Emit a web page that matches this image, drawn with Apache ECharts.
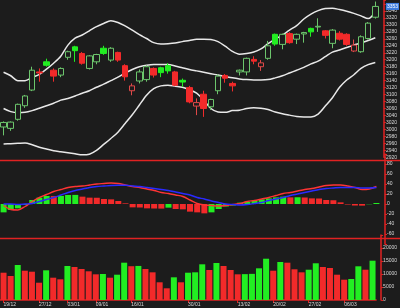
<!DOCTYPE html>
<html><head><meta charset="utf-8">
<script src="https://cdn.jsdelivr.net/npm/echarts@6/dist/echarts.min.js"></script>
<style>html,body{margin:0;padding:0;background:#1c1c1c;}#c{width:400px;height:308px;}</style>
</head><body><div id="c"></div>
<script>
const dates = ['19/12','20/12','21/12','24/12','26/12','27/12','28/12','31/12','02/01','03/01','04/01','07/01','08/01','09/01','10/01','11/01','14/01','15/01','16/01','17/01','18/01','21/01','22/01','23/01','24/01','29/01','30/01','31/01','01/02','04/02','05/02','06/02','07/02','13/02','14/02','15/02','18/02','19/02','20/02','21/02','22/02','25/02','26/02','27/02','28/02','01/03','04/03','05/03','06/03','07/03','08/03','11/03','12/03'];
const labelDates = ['19/12','27/12','03/01','09/01','16/01','30/01','13/02','20/02','27/02','06/03'];

const opens  = [3007,3003,3029,3068,3113,3165,3194,3170,3156,3207,3237,3218,3175,3194,3233,3199,3221,3183,3111,3139,3143,3175,3177,3183,3165,3141,3120,3067,3101,3065,3111,3155,3132,3165,3165,3201,3180,3204,3273,3244,3275,3259,3274,3290,3294,3283,3247,3276,3273,3225,3223,3261,3322];
const closes = [3020,3021,3072,3096,3170,3162,3184,3153,3175,3223,3226,3190,3211,3215,3218,3233,3199,3151,3125,3165,3180,3156,3163,3168,3127,3136,3079,3077,3060,3086,3153,3147,3125,3170,3204,3196,3191,3240,3245,3273,3249,3273,3278,3280,3296,3270,3285,3259,3244,3242,3266,3305,3353];
const lows   = [2983,2996,3025,3062,3110,3137,3180,3137,3150,3200,3194,3186,3172,3187,3214,3194,3194,3140,3098,3132,3137,3149,3150,3160,3124,3122,3075,3041,3036,3056,3101,3134,3109,3155,3155,3187,3168,3200,3240,3230,3246,3245,3249,3266,3280,3261,3233,3255,3240,3222,3220,3258,3318];
const highs  = [3023,3023,3074,3099,3180,3175,3203,3175,3178,3226,3240,3222,3213,3217,3240,3236,3223,3187,3132,3172,3184,3178,3180,3190,3168,3146,3125,3089,3111,3088,3158,3159,3137,3172,3206,3210,3199,3254,3275,3275,3279,3275,3280,3292,3319,3285,3288,3282,3276,3258,3270,3308,3367];
const priorClose = 2990;

const bollUpper = [3164,3154,3140,3140,3149,3158,3173,3190,3210,3242,3262,3271,3283,3295,3304,3312,3307,3297,3285,3272,3261,3249,3245,3246,3248,3252,3255,3259,3259,3258,3252,3239,3224,3216,3218,3222,3231,3246,3259,3271,3285,3298,3317,3331,3341,3347,3348,3344,3339,3333,3326,3318,3337];
const bollMid   = [3060,3051,3048,3049,3054,3061,3068,3075,3084,3089,3096,3104,3111,3121,3130,3140,3150,3162,3172,3180,3184,3186,3186,3186,3182,3177,3172,3168,3164,3160,3156,3152,3148,3145,3143,3142,3142,3143,3148,3154,3162,3170,3178,3188,3196,3209,3222,3228,3235,3242,3248,3255,3263];
const bollLower = [2958,2959,2960,2961,2956,2949,2944,2939,2936,2933,2930,2927,2929,2940,2957,2974,2992,3017,3042,3070,3098,3117,3125,3127,3124,3121,3114,3104,3084,3060,3050,3049,3054,3055,3060,3062,3061,3057,3050,3045,3041,3037,3036,3036,3044,3067,3091,3121,3142,3157,3175,3186,3192];

const volumes = [10500,9230,13460,11270,10880,6650,11420,8580,7960,13080,12690,11920,11040,9880,10000,8580,9730,14350,13000,13100,11920,10650,6810,4500,8730,6810,10500,10650,13730,11540,14230,13080,11540,9880,9950,10050,12190,15880,11270,14620,14350,11810,10650,11650,14120,12690,12310,9730,7810,8080,12960,11650,15120];
const priorVolume = 11500;

const dif = [-3,-11,-12,-5,5,13,19,25,29,33,35,36,38,40,41,42,41,38,35,33,30,27,23,21,18,15,8,1,-2,-3,-4,-3,-1,1,5,7,10,13,17,21,23,26,29,31,34,37,38,38,36,33,29,30,35];
const dea = [0,0,-1,0,1,5,9,13,18,23,27,30,33,35,36,37,37.5,37.5,36,35,33,31,29,27,24,21,18,13,10,6,3,0,-1,-2,-1,1,3,7,10,13,17,20,23,26,29,31,32,33,33,33,32,32,33];
const macdHist = [-16.7,-12,-8.7,-2,8,12.7,16,15.8,16.2,18,18.2,14.7,12.7,12.5,10,9.3,6,1.3,-6.7,-7,-8.7,-9,-9.2,-7.3,-10,-10.7,-15.3,-16.7,-18.7,-16.7,-10,-5,-3,2.7,4.7,6.7,9.3,11.3,13.3,14.7,13.3,13.5,13,11.3,11,8,7.5,3.3,-1,-3,-3.3,-0.5,2];
const priorHist = -19;

const BG = '#1c1c1c', UP = '#22ee22', DOWN = '#f22a2a', UP_HOLLOW = '#6cc56c', DOWN_HOLLOW = '#e04848';
const AXIS = '#e02222', TXT = '#d8d8d8', FONT = 'Liberation Sans';

const candleData = opens.map((o, i) => {
  const c = closes[i], prev = i ? closes[i - 1] : priorClose;
  const rising = c >= prev, hollow = c > o;
  const col = rising ? (hollow ? UP_HOLLOW : UP) : (hollow ? DOWN_HOLLOW : DOWN);
  const fill = hollow ? BG : col;
  return { value: [o, c, lows[i], highs[i]], itemStyle: { color: fill, color0: fill, borderColor: col, borderColor0: col, borderWidth: 1 } };
});
const volData = volumes.map((v, i) => ({ value: v, itemStyle: { color: v > (i ? volumes[i - 1] : priorVolume) ? UP : DOWN } }));
const histData = macdHist.map((v, i) => ({ value: v, itemStyle: { color: v > (i ? macdHist[i - 1] : priorHist) ? UP : DOWN } }));

const isLabel = (idx, v) => labelDates.includes(v);
function xAxis(g) {
  return {
    type: 'category', gridIndex: g, data: dates, boundaryGap: true, show: g === 2,
    axisLine: { show: true, lineStyle: { color: AXIS, width: 1.5 } },
    axisTick: { show: true, interval: isLabel, alignWithLabel: true, length: 3, lineStyle: { color: AXIS } },
    axisLabel: { interval: isLabel, align: 'left', fontSize: 5, fontFamily: FONT, color: TXT, margin: 2 },
    splitLine: { show: false }
  };
}
function yAxis(g, min, max, interval, lo, hi) {
  return {
    type: 'value', gridIndex: g, position: 'right', offset: 5, min, max, interval, scale: false,
    axisLine: { show: true, lineStyle: { color: AXIS, width: 1.5 } },
    axisTick: { show: true, length: 2, lineStyle: { color: AXIS } },
    axisLabel: { fontSize: 5, fontFamily: FONT, color: TXT, margin: 2, formatter: v => (v >= lo && v <= hi) ? String(v) : '' },
    splitLine: { show: false }
  };
}
const lastClose = closes[closes.length - 1];
const line = (name, data, color, x, y, w) => ({ name, type: 'line', data, xAxisIndex: x, yAxisIndex: y, symbol: 'none', smooth: 0.3, lineStyle: { color, width: w }, itemStyle: { color }, z: 3 });

const chart = echarts.init(document.getElementById('c'), null, { renderer: 'canvas' });
chart.setOption({
  animation: false,
  backgroundColor: BG,
  grid: [
    { left: 0, width: 380, top: 0.5, height: 156.8 },
    { left: 0, width: 380, top: 154, height: 90 },
    { left: 0, width: 380, top: 235, height: 65 }
  ],
  xAxis: [xAxis(0), xAxis(1), xAxis(2)],
  yAxis: [
    yAxis(0, 2920, 3370, 20, 2920, 3340),
    yAxis(1, -80, 100, 20, -60, 80),
    yAxis(2, 0, 25000, 5000, 0, 20000)
  ],
  graphic: [
    { type: 'line', shape: { x1: 0, y1: 160.5, x2: 400, y2: 160.5 }, style: { stroke: AXIS, lineWidth: 1.5 }, silent: true },
    { type: 'line', shape: { x1: 0, y1: 238.5, x2: 400, y2: 238.5 }, style: { stroke: AXIS, lineWidth: 1.5 }, silent: true }
  ],
  series: [
    line('upper', bollUpper, '#e8e8e8', 0, 0, 1.5),
    line('mid', bollMid, '#e8e8e8', 0, 0, 1.5),
    line('lower', bollLower, '#e8e8e8', 0, 0, 1.5),
    {
      name: 'price', type: 'candlestick', xAxisIndex: 0, yAxisIndex: 0, data: candleData, barWidth: 6, z: 4, clip: false,
      markLine: {
        symbol: 'none', silent: true, animation: false, z: 10,
        lineStyle: { color: 'rgba(0,0,0,0)', width: 0, type: 'solid' },
        label: { show: true, position: 'end', distance: 7, formatter: String(lastClose), backgroundColor: '#3d7de0', color: '#ffffff', opacity: 1, fontSize: 5, fontFamily: FONT, padding: [1, 1] },
        emphasis: { disabled: true },
        data: [{ yAxis: lastClose }]
      }
    },
    { name: 'hist', type: 'bar', xAxisIndex: 1, yAxisIndex: 1, data: histData, barWidth: 6, z: 2 },
    line('dif', dif, '#ff3434', 1, 1, 1.4),
    line('dea', dea, '#2a2aff', 1, 1, 1.4),
    { name: 'vol', type: 'bar', xAxisIndex: 2, yAxisIndex: 2, data: volData, barWidth: 6 }
  ]
});
</script></body></html>
